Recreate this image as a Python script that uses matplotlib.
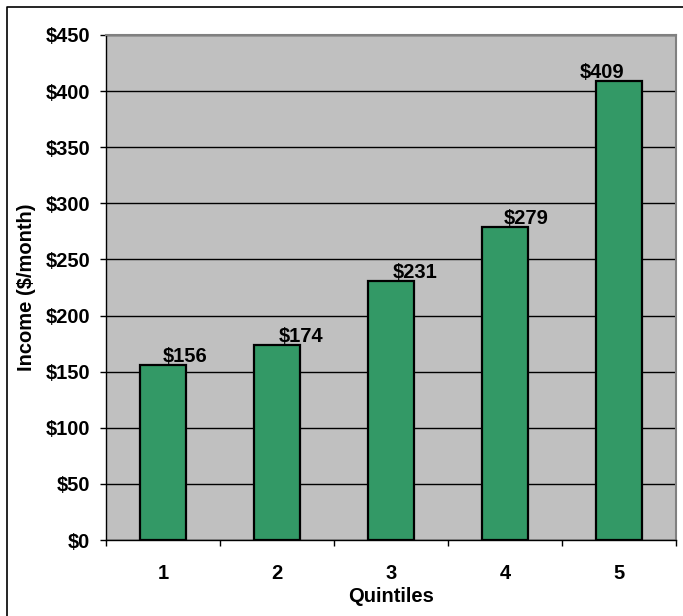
import matplotlib
matplotlib.use("Agg")
import matplotlib.pyplot as plt
from matplotlib.lines import Line2D

quintiles = ["1", "2", "3", "4", "5"]
income = [156, 174, 231, 279, 409]
y_ticks = [0, 50, 100, 150, 200, 250, 300, 350, 400, 450]
# horizontal nudge for each value label, in points
label_dx = [16, 17, 17, 15, -12]

plt.rcParams['font.family'] = ['Liberation Sans', 'DejaVu Sans']
plt.rcParams['font.weight'] = 'bold'
FS = 14.5

W, H = 683, 616
fig = plt.figure(figsize=(W / 100, H / 100), dpi=100)
ax = fig.add_axes([106 / W, 1 - 540 / H, (676 - 106) / W, (540 - 35) / H])
ax.set_facecolor('#c0c0c0')

x = list(range(len(quintiles)))
ax.bar(x, income, width=0.4, color='#339966', edgecolor='black', linewidth=1.6, zorder=3)

ax.set_xlim(-0.5, len(quintiles) - 0.5)
ax.set_ylim(0, 450)
ax.set_yticks(y_ticks)
ax.set_yticklabels([f"${v}" for v in y_ticks], fontsize=FS, fontweight='bold')
ax.yaxis.grid(True, color='black', linewidth=1.0, zorder=1)
ax.set_axisbelow(True)

ax.set_xticks(x)
ax.set_xticklabels(quintiles, fontsize=FS, fontweight='bold')
ax.set_xticks([i + 0.5 for i in range(-1, len(quintiles))], minor=True)
ax.tick_params(axis='x', which='major', length=0, pad=17)
ax.tick_params(axis='x', which='minor', length=4.5, width=1, direction='out')
ax.tick_params(axis='y', length=4.5, width=1, direction='out', pad=7)

ax.set_xlabel("Quintiles", fontsize=FS, fontweight='bold', labelpad=3)
ax.set_ylabel("Income ($/month)", fontsize=FS, fontweight='bold', labelpad=7)

for s in ['left', 'bottom']:
    ax.spines[s].set_color('black')
    ax.spines[s].set_linewidth(1.0)
for s in ['top', 'right']:
    ax.spines[s].set_color('#808080')
    ax.spines[s].set_linewidth(1.5)

for xi, v, dx in zip(x, income, label_dx):
    ax.annotate(f"${v}", (xi, v), xytext=(dx, 6), textcoords='offset points',
                ha='center', va='center', fontsize=FS, fontweight='bold', zorder=4)

# chart frame
fig.add_artist(Line2D([7 / W, 7 / W, 1.0], [0.0, 1 - 7 / H, 1 - 7 / H],
                      transform=fig.transFigure, color='black', linewidth=1.2))

fig.savefig("out.png", dpi=100, facecolor='white')
